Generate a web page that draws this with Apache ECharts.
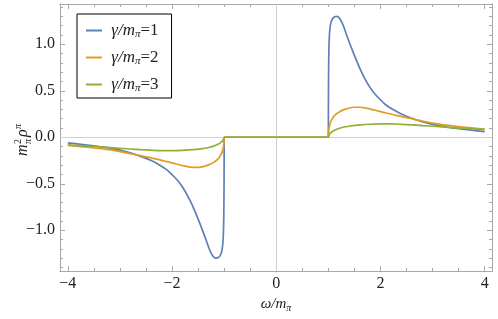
<!DOCTYPE html>
<html><head><meta charset="utf-8">
<script src="https://cdn.jsdelivr.net/npm/echarts@6/dist/echarts.min.js"></script>
<style>html,body{margin:0;padding:0;background:#fff}#c{width:498px;height:319px}</style>
</head><body><div id="c"></div>
<script>
const seriesNames = ['γ/mπ=1', 'γ/mπ=2', 'γ/mπ=3'];
const seriesColors = ['#5e81b5', '#e19c24', '#8fb032'];

const omega1 = [-4.0,-3.75,-3.5,-3.25,-3.0,-2.8,-2.6,-2.4,-2.25,-2.1,-1.95,-1.85,-1.75,-1.65,-1.55,-1.45,-1.35,-1.28,-1.22,-1.17,-1.12,-1.08,-1.05,-1.035,-1.02,-1.01,-1.005,-1.002,-1.0005,-1.0,
                1.0,1.0005,1.002,1.005,1.01,1.02,1.035,1.05,1.08,1.12,1.17,1.22,1.28,1.35,1.45,1.55,1.65,1.75,1.85,1.95,2.1,2.25,2.4,2.6,2.8,3.0,3.25,3.5,3.75,4.0];
const rho1 = [-0.06,-0.076,-0.093,-0.111,-0.138,-0.168,-0.205,-0.25,-0.295,-0.35,-0.43,-0.495,-0.58,-0.685,-0.81,-0.95,-1.10,-1.21,-1.275,-1.30,-1.295,-1.275,-1.235,-1.19,-1.1,-0.95,-0.75,-0.5,-0.25,0,
              0,0.25,0.5,0.75,0.95,1.1,1.19,1.235,1.275,1.295,1.30,1.275,1.21,1.10,0.95,0.81,0.685,0.58,0.495,0.43,0.35,0.295,0.25,0.205,0.168,0.138,0.111,0.093,0.076,0.06];

const omega2 = [-4.0,-3.8,-3.58,-3.3,-3.07,-2.8,-2.55,-2.3,-2.1,-1.9,-1.75,-1.6,-1.5,-1.4,-1.3,-1.2,-1.12,-1.07,-1.04,-1.02,-1.008,-1.002,-1.0,
                1.0,1.002,1.008,1.02,1.04,1.07,1.12,1.2,1.3,1.4,1.5,1.6,1.75,1.9,2.1,2.3,2.55,2.8,3.07,3.3,3.58,3.8,4.0];
const rho2 = [-0.088,-0.098,-0.11,-0.128,-0.147,-0.175,-0.205,-0.235,-0.262,-0.29,-0.31,-0.323,-0.323,-0.315,-0.297,-0.27,-0.235,-0.195,-0.16,-0.12,-0.08,-0.04,0,
              0,0.04,0.08,0.12,0.16,0.195,0.235,0.27,0.297,0.315,0.323,0.323,0.31,0.29,0.262,0.235,0.205,0.175,0.147,0.128,0.11,0.098,0.088];

const omega3 = [-4.0,-3.8,-3.58,-3.3,-3.07,-2.8,-2.6,-2.4,-2.2,-2.0,-1.8,-1.6,-1.45,-1.3,-1.2,-1.1,-1.05,-1.02,-1.005,-1.0,
                1.0,1.005,1.02,1.05,1.1,1.2,1.3,1.45,1.6,1.8,2.0,2.2,2.4,2.6,2.8,3.07,3.3,3.58,3.8,4.0];
const rho3 = [-0.082,-0.089,-0.097,-0.107,-0.116,-0.126,-0.133,-0.139,-0.143,-0.143,-0.14,-0.133,-0.124,-0.11,-0.095,-0.07,-0.05,-0.03,-0.015,0,
              0,0.015,0.03,0.05,0.07,0.095,0.11,0.124,0.133,0.14,0.143,0.143,0.139,0.133,0.126,0.116,0.107,0.097,0.089,0.082];

const xMajorTicks = [-4, -2, 0, 2, 4];
const xMinorTicks = [-4, -3.5, -3, -2.5, -2, -1.5, -1, -0.5, 0, 0.5, 1, 1.5, 2, 2.5, 3, 3.5, 4];
const yMajorTicks = [-1, -0.5, 0, 0.5, 1];
const yMinorTicks = [-1.4, -1.3, -1.2, -1.1, -1, -0.9, -0.8, -0.7, -0.6, -0.5, -0.4, -0.3, -0.2, -0.1, 0,
                     0.1, 0.2, 0.3, 0.4, 0.5, 0.6, 0.7, 0.8, 0.9, 1, 1.1, 1.2, 1.3, 1.4];

const X_MIN = -4.15, X_MAX = 4.14, Y_MIN = -1.438, Y_MAX = 1.433;
const FRAME = '#a8a8a8';
const SERIF = '"Liberation Serif", "DejaVu Serif", serif';

const fmtMinus = (v, d) => (v < 0 ? '\u2212' : '') + Math.abs(v).toFixed(d);

function xAx(pos, ticks, len, labels) {
  return {
    type: 'value', position: pos, min: X_MIN, max: X_MAX,
    axisLine: { show: true, onZero: false, lineStyle: { color: FRAME, width: 1 } },
    axisTick: { show: true, inside: true, length: len, customValues: ticks, lineStyle: { color: FRAME, width: 1 } },
    axisLabel: labels ? { show: true, customValues: xMajorTicks, formatter: v => fmtMinus(v, 0), color: '#222', fontFamily: SERIF, fontSize: 16, margin: 5 } : { show: false },
    splitLine: { show: false }
  };
}
function yAx(pos, ticks, len, labels) {
  return {
    type: 'value', position: pos, min: Y_MIN, max: Y_MAX,
    axisLine: { show: true, onZero: false, lineStyle: { color: FRAME, width: 1 } },
    axisTick: { show: true, inside: true, length: len, customValues: ticks, lineStyle: { color: FRAME, width: 1 } },
    axisLabel: labels ? { show: true, customValues: yMajorTicks, formatter: v => fmtMinus(v, 1), color: '#222', fontFamily: SERIF, fontSize: 16, margin: 5 } : { show: false },
    splitLine: { show: false }
  };
}

const xAxes = [xAx('bottom', xMajorTicks, 5, true), xAx('bottom', xMinorTicks, 3, false), xAx('top', xMajorTicks, 5, false), xAx('top', xMinorTicks, 3, false)];
xAxes[0].name = '{a|ω/m}{s|π}';
xAxes[0].nameLocation = 'middle';
xAxes[0].nameGap = 23;
xAxes[0].nameTextStyle = {
  rich: {
    a: { fontFamily: SERIF, fontStyle: 'italic', fontSize: 15, color: '#222' },
    s: { fontFamily: SERIF, fontStyle: 'italic', fontSize: 10, color: '#222', padding: [8, 0, 0, 0] }
  }
};
const yAxes = [yAx('left', yMajorTicks, 5, true), yAx('left', yMinorTicks, 3, false), yAx('right', yMajorTicks, 5, false), yAx('right', yMinorTicks, 3, false)];

const curveData = [[omega1, rho1], [omega2, rho2], [omega3, rho3]];
const series = [{
  type: 'line', data: [], xAxisIndex: 0, yAxisIndex: 0, silent: true, z: 1,
  markLine: {
    silent: true, symbol: 'none', label: { show: false }, animation: false,
    lineStyle: { color: '#cfcfcf', width: 1, type: 'solid' },
    data: [{ xAxis: 0 }, { yAxis: 0 }]
  }
}];
curveData.forEach((c, i) => {
  series.push({
    name: seriesNames[i], type: 'line', xAxisIndex: 0, yAxisIndex: 0, z: 3 + i,
    data: c[0].map((w, j) => [w, c[1][j]]),
    smooth: 0.3, showSymbol: false, symbol: 'none',
    lineStyle: { color: seriesColors[i], width: 1.7 }, itemStyle: { color: seriesColors[i] }
  });
});

const chart = echarts.init(document.getElementById('c'), null, { renderer: 'canvas' });
chart.setOption({
  animation: false,
  backgroundColor: '#fff',
  grid: { left: 60, top: 4, right: 6, bottom: 48, containLabel: false, outerBoundsMode: 'none' },
  xAxis: xAxes,
  yAxis: yAxes,
  legend: {
    data: seriesNames.map(n => ({ name: n, icon: 'rect' })), orient: 'vertical', left: 77, top: 14,
    padding: [8, 13, 4, 9], itemGap: 9, itemWidth: 16, itemHeight: 2,
    borderColor: '#000', borderWidth: 1, backgroundColor: '#fff',
    formatter: n => '{g| γ/m}{s|π}{n|=' + n.split('=')[1] + '}',
    textStyle: {
      rich: {
        g: { fontFamily: SERIF, fontStyle: 'italic', fontSize: 17, color: '#222' },
        s: { fontFamily: SERIF, fontStyle: 'italic', fontSize: 11, color: '#222', padding: [8, 0, 0, 0] },
        n: { fontFamily: SERIF, fontSize: 17, color: '#222' }
      }
    }
  },
  series: series,
  graphic: [{
    type: 'group', x: 31, y: 156, rotation: Math.PI / 2, silent: true,
    children: [
      { type: 'text', x: 0, y: 0, style: { text: 'm', font: 'italic 16px ' + SERIF, fill: '#222', verticalAlign: 'bottom' } },
      { type: 'text', x: 12, y: -8, style: { text: '2', font: '10px ' + SERIF, fill: '#222', verticalAlign: 'bottom' } },
      { type: 'text', x: 12, y: 2, style: { text: 'π', font: 'italic 10px ' + SERIF, fill: '#222', verticalAlign: 'bottom' } },
      { type: 'text', x: 19, y: 0, style: { text: 'ρ', font: 'italic 16px ' + SERIF, fill: '#222', verticalAlign: 'bottom' } },
      { type: 'text', x: 27, y: -8, style: { text: 'π', font: 'italic 10px ' + SERIF, fill: '#222', verticalAlign: 'bottom' } }
    ]
  }]
});
</script></body></html>
